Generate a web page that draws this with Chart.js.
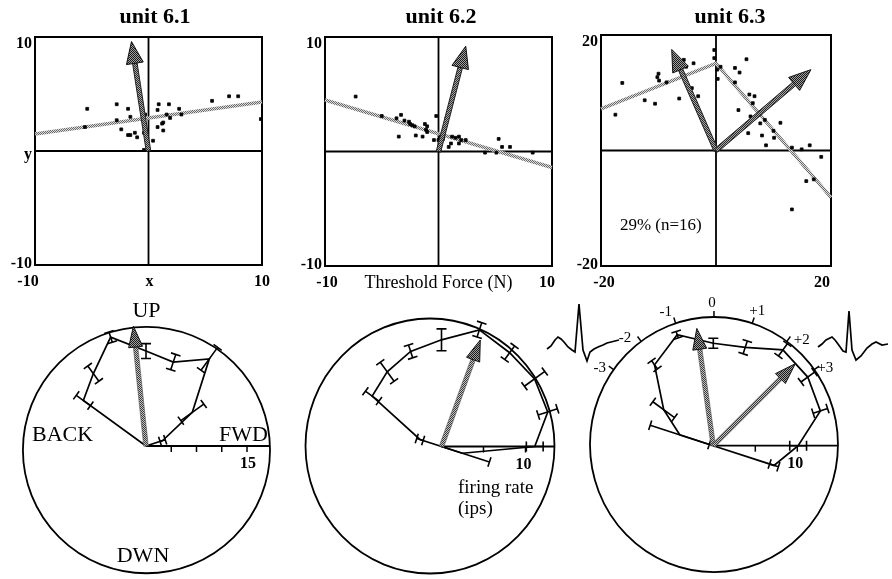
<!DOCTYPE html>
<html><head><meta charset="utf-8">
<script src="https://cdn.jsdelivr.net/npm/chart.js@4.4.1/dist/chart.umd.min.js"></script>
<style>
html,body{margin:0;padding:0;background:#fff;}
#wrap{position:relative;width:892px;height:579px;overflow:hidden;background:#fff;}
#wrap canvas{position:absolute;left:0;top:0;}
</style></head>
<body><div id="wrap">
<canvas id="s1" width="892" height="579"></canvas>
<canvas id="s2" width="892" height="579"></canvas>
<canvas id="s3" width="892" height="579"></canvas>
<canvas id="p1" width="892" height="579"></canvas>
<canvas id="p2" width="892" height="579"></canvas>
<canvas id="p3" width="892" height="579"></canvas>
<canvas id="w1" width="892" height="579"></canvas>
<canvas id="w2" width="892" height="579"></canvas>
</div>
<script>
// ===================== DATA =====================
const unitTitles = ['unit 6.1', 'unit 6.2', 'unit 6.3'];

// Threshold force scatter, unit 6.1 (N)
const u1x = [-5.4,-5.6,-2.8,-2.8,-1.8,-1.6,-2.4,-1.8,-1.6,-1.2,-1.0,-0.4,-0.3,-0.4,0.4,0.8,0.9,0.8,1.2,1.3,1.6,1.8,1.9,2.7,2.9,5.6,7.1,7.9,9.9,1.3];
const u1y = [3.7,2.1,4.1,2.7,3.7,3.0,1.9,1.4,1.4,1.6,1.2,1.6,3.2,0.1,0.9,3.6,4.1,2.1,2.4,1.8,3.2,4.1,2.9,3.7,3.2,4.4,4.8,4.8,2.8,2.5];
const u1RegX = [-10, 10];
const u1RegY = [1.5, 4.3];
const u1ArrowX = [-1.5];
const u1ArrowY = [9.6];

// unit 6.2
const u2x = [-7.3,-5.0,-3.7,-3.3,-3.0,-2.6,-2.3,-2.1,-2.5,-3.5,-2.0,-1.4,-1.2,-1.1,-1.0,-1.0,-0.4,-0.2,0.2,0.4,0.7,0.9,1.1,1.2,1.5,1.8,1.8,2.0,2.4,5.3,5.1,5.6,6.3,4.1,8.3,0.1,0.0,0.4];
const u2y = [4.8,3.1,2.9,3.2,2.7,2.6,2.3,2.2,2.4,1.3,1.4,1.3,2.4,1.9,1.7,2.2,1.0,3.1,1.3,1.1,2.9,0.4,0.7,1.3,1.2,1.3,0.7,1.0,1.0,1.1,-0.1,0.4,0.4,-0.1,-0.1,0.1,1.0,1.4];
const u2RegX = [-10, 10];
const u2RegY = [4.5, -1.4];
const u2ArrowX = [2.4];
const u2ArrowY = [9.2];

// unit 6.3
const u3x = [-16.3,-17.5,-12.4,-10.6,-10.2,-10.0,-9.9,-8.6,-6.4,-5.6,-5.2,-4.2,-3.9,-3.1,-0.3,-0.3,0.2,0.3,0.8,3.3,4.1,3.3,5.3,5.8,6.7,6.4,3.9,6.0,7.7,8.5,11.2,10.0,8.0,5.6,10.1,8.7,13.2,14.9,16.3,18.3,15.7,17.0,13.2];
const u3y = [11.7,6.2,8.7,8.1,12.7,13.3,12.1,11.8,9.0,15.7,14.5,10.8,15.1,9.4,17.4,16.0,14.0,12.4,14.5,14.3,13.5,11.8,15.8,9.7,9.4,8.2,7.0,5.9,4.7,5.3,4.8,3.4,2.6,3.0,2.2,0.9,0.5,0.2,0.9,-1.1,-5.3,-5.0,-10.2];
const u3RegX = [-20, 0, 20];
const u3RegY = [7.2, 15.1, -8.1];
const u3ArrowX = [-7.7, 16.5];
const u3ArrowY = [17.5, 14.0];
const u3Note = '29% (n=16)';

// axis tick labels of the scatter panels
const s1YLabels = ['10', 'y', '-10'];
const s1XLabels = ['-10', 'x', '10'];
const s2YLabels = ['10', '', '-10'];
const s2XLabels = ['-10', 'Threshold Force (N)', '10'];
const s3YLabels = ['20', '', '-20'];
const s3XLabels = ['-20', '', '20'];

// Polar tuning curves: direction (deg, 0 = FWD, 90 = UP), firing rate (ips), error
const p1Angles = [18, 36, 54, 72, 90, 108, 126, 144];
const p1Rates  = [2.6, 8.5, 16.0, 13.1, 14.1, 17.0, 13.3, 11.5];
const p1Err    = [0.4, 2.1, 2.1, 1.2, 1.1, 0.8, 1.4, 1.3];
const p1ArrowAngle = [96];
const p1ArrowLen   = [17.9];
const p1TickVals   = [3.75, 7.5, 11.25, 15];
const p1TickLabels = ['', '', '', '15'];
const p1DirLabels  = ['FWD', 'UP', 'BACK', 'DWN'];

const p2Angles = [-18, 0, 18, 36, 54, 72, 90, 108, 126, 144, 162];
const p2Rates  = [2.6, 11.1, 13.3, 13.7, 13.8, 14.6, 12.7, 11.9, 11.0, 10.2, 2.7];
const p2Err    = [3.4, 1.0, 1.2, 1.5, 1.0, 0.9, 1.3, 0.8, 1.4, 1.0, 0.4];
const p2ArrowAngle = [70];
const p2ArrowLen   = [13.5];
const p2TickVals   = [5, 10];
const p2TickLabels = ['', '10'];
const p2AxisTitle  = ['firing rate', '(ips)'];

const p3Angles = [-18, 0, 18, 36, 54, 72, 90, 108, 126, 144, 162];
const p3Rates  = [7.6, 10.1, 13.4, 13.9, 14.1, 12.3, 12.2, 13.9, 11.9, 7.3, 4.2];
const p3Err    = [0.55, 1.0, 0.9, 1.0, 0.9, 0.8, 0.6, 0.4, 0.6, 1.6, 3.7];
const p3ArrowAngle = [98, 45];
const p3ArrowLen   = [14.1, 13.8];
const p3TickVals   = [5, 10];
const p3TickLabels = ['', '10'];
const p3RimAngles  = [36, 54, 72, 90, 108, 126, 144];
const p3RimLabels  = ['+3', '+2', '+1', '0', '-1', '-2', '-3'];

// spike waveforms (time sample, amplitude)
const wave1T = [0, 4, 8, 11, 14, 17, 21, 25, 28, 32, 36, 40, 43, 47, 51, 56, 60, 64, 68, 72];
const wave1V = [3, 6, 12, 15, 13, 10, 5, 2, 0, 48, 2, -9, 0, 3, 5, 7, 9, 10, 11, 12];
const wave2T = [0, 4, 8, 14, 17, 20, 25, 28, 31, 34, 38, 43, 49, 54, 58, 64, 70];
const wave2V = [5, 8, 12, 15, 12, 8, 1, 0, 41, 2, -8, -4, 4, 8, 10, 7, 8];

// ===================== DRAWING =====================
const W = 892, H = 579;
const SERIF = "'Liberation Serif','Times New Roman',Times,serif";
Chart.defaults.font.family = SERIF;

function fnt(size, bold) { return (bold ? 'bold ' : '') + size + 'px ' + SERIF; }
function text(ctx, s, x, y, size, bold, align, base) {
  ctx.save(); ctx.font = fnt(size, bold); ctx.fillStyle = '#000';
  ctx.textAlign = align || 'center'; ctx.textBaseline = base || 'middle';
  ctx.fillText(s, x, y); ctx.restore();
}
function dither(ctx, on, off) {
  const c = document.createElement('canvas'); c.width = 2; c.height = 2;
  const g = c.getContext('2d'); g.fillStyle = off; g.fillRect(0, 0, 2, 2);
  g.fillStyle = on; g.fillRect(0, 0, 1, 1); g.fillRect(1, 1, 1, 1);
  return ctx.createPattern(c, 'repeat');
}
const scratchCtx = document.createElement('canvas').getContext('2d');
const regPattern = dither(scratchCtx, '#6a6a6a', '#dcdcdc');

function arrow(ctx, x0, y0, x1, y1, o) {
  const dx = x1 - x0, dy = y1 - y0, L = Math.hypot(dx, dy);
  const ux = dx / L, uy = dy / L, nx = -uy, ny = ux;
  const bx = x1 - ux * o.headL, by = y1 - uy * o.headL, s = o.shaft / 2;
  ctx.save();
  ctx.beginPath();
  ctx.moveTo(x0 + nx * s, y0 + ny * s);
  ctx.lineTo(bx + nx * s, by + ny * s);
  ctx.lineTo(bx - nx * s, by - ny * s);
  ctx.lineTo(x0 - nx * s, y0 - ny * s);
  ctx.closePath();
  ctx.fillStyle = dither(ctx, o.shaftOn, o.shaftOff); ctx.fill();
  ctx.strokeStyle = o.edge; ctx.lineWidth = o.edgeW; ctx.stroke();
  ctx.beginPath();
  ctx.moveTo(bx + nx * o.headW, by + ny * o.headW);
  ctx.lineTo(x1, y1);
  ctx.lineTo(bx - nx * o.headW, by - ny * o.headW);
  ctx.closePath();
  ctx.fillStyle = dither(ctx, '#1a1a1a', '#a0a0a0'); ctx.fill();
  ctx.strokeStyle = '#111'; ctx.lineWidth = 1; ctx.stroke();
  ctx.restore();
}
function pad(box) { return { left: box[0], top: box[1], right: W - box[2], bottom: H - box[3] }; }
const baseOpts = { responsive: false, animation: false, events: [],
  plugins: { legend: { display: false }, tooltip: { enabled: false }, title: { display: false } } };

// ---------- scatter panels ----------
function scatterPanel(id, c) {
  return new Chart(document.getElementById(id), {
    type: 'scatter',
    data: { datasets: [
      { data: c.regX.map((x, i) => ({ x, y: c.regY[i] })), showLine: true, borderColor: regPattern,
        borderWidth: 3.5, pointRadius: 0, clip: false, order: 2 },
      { data: c.xs.map((x, i) => ({ x, y: c.ys[i] })), pointStyle: 'rect', pointRadius: 2,
        pointBorderWidth: 0.8, backgroundColor: '#000', borderColor: '#000', clip: false, order: 1 }
    ] },
    options: Object.assign({}, baseOpts, {
      layout: { padding: pad(c.box), autoPadding: false },
      scales: {
        x: { type: 'linear', min: -c.R, max: c.R, display: false },
        y: { type: 'linear', min: -c.R, max: c.R, display: false }
      }
    }),
    plugins: [{
      id: 'frame_' + id,
      beforeDatasetsDraw(ch) {
        const ctx = ch.ctx, a = ch.chartArea, xs = ch.scales.x, ys = ch.scales.y;
        ctx.save(); ctx.strokeStyle = '#000';
        ctx.lineWidth = 2; ctx.strokeRect(a.left, a.top, a.right - a.left, a.bottom - a.top);
        ctx.lineWidth = 1.8; ctx.beginPath();
        ctx.moveTo(xs.getPixelForValue(0), a.top); ctx.lineTo(xs.getPixelForValue(0), a.bottom);
        ctx.moveTo(a.left, ys.getPixelForValue(0)); ctx.lineTo(a.right, ys.getPixelForValue(0));
        ctx.stroke(); ctx.restore();
      },
      afterDatasetsDraw(ch) {
        const ctx = ch.ctx, a = ch.chartArea, xs = ch.scales.x, ys = ch.scales.y;
        const x0 = xs.getPixelForValue(0), y0 = ys.getPixelForValue(0);
        c.arrX.forEach((ax, i) => arrow(ctx, x0, y0, xs.getPixelForValue(ax), ys.getPixelForValue(c.arrY[i]),
          { shaft: 4.5, headL: 22, headW: 8.5, shaftOn: '#2a2a2a', shaftOff: '#a8a8a8', edge: '#222', edgeW: 1 }));
        text(ctx, c.title, c.titleX, 17, 22, true);
        const yv = [c.R, 0, -c.R], yoff = [7, 4, -1];
        c.yLabels.forEach((s, i) => { if (s) text(ctx, s, a.left - 3, ys.getPixelForValue(yv[i]) + yoff[i], 16, true, 'right'); });
        const xv = [-c.R, 0, c.R];
        c.xLabels.forEach((s, i) => {
          if (!s) return;
          const mid = i === 1 && s.length > 2;
          text(ctx, s, xs.getPixelForValue(xv[i]) + c.xOff[i], a.bottom + 17, mid ? 18 : 16, !mid);
        });
        if (c.note) text(ctx, c.note, xs.getPixelForValue(c.noteAt[0]), ys.getPixelForValue(c.noteAt[1]), 17, false);
      }
    }]
  });
}

scatterPanel('s1', { box: [35, 37, 262, 265], R: 10, xs: u1x, ys: u1y, regX: u1RegX, regY: u1RegY,
  arrX: u1ArrowX, arrY: u1ArrowY, title: unitTitles[0], titleX: 155, yLabels: s1YLabels, xLabels: s1XLabels, xOff: [-7, 1, 0] });
scatterPanel('s2', { box: [325, 37, 552, 266], R: 10, xs: u2x, ys: u2y, regX: u2RegX, regY: u2RegY,
  arrX: u2ArrowX, arrY: u2ArrowY, title: unitTitles[1], titleX: 441, yLabels: s2YLabels, xLabels: s2XLabels, xOff: [2, 0, -5] });
scatterPanel('s3', { box: [601, 35, 831, 266], R: 20, xs: u3x, ys: u3y, regX: u3RegX, regY: u3RegY,
  arrX: u3ArrowX, arrY: u3ArrowY, title: unitTitles[2], titleX: 730, yLabels: s3YLabels, xLabels: s3XLabels, xOff: [3, 0, -9],
  note: u3Note, noteAt: [-9.6, -13.0] });

// ---------- polar panels ----------
function polarPanel(id, c) {
  const [l, t, r, b] = c.box, [ox, oy] = c.origin, k = c.ppu;
  const rad = a => a * Math.PI / 180;
  const pts = [{ x: 0, y: 0 }].concat(c.angles.map((a, i) => ({ x: c.rates[i] * Math.cos(rad(a)), y: c.rates[i] * Math.sin(rad(a)) })), [{ x: 0, y: 0 }]);
  return new Chart(document.getElementById(id), {
    type: 'scatter',
    data: { datasets: [{ data: pts, showLine: true, borderColor: '#000', borderWidth: 1.7, pointRadius: 0, clip: false }] },
    options: Object.assign({}, baseOpts, {
      layout: { padding: pad(c.box), autoPadding: false },
      scales: {
        x: { type: 'linear', min: (l - ox) / k, max: (r - ox) / k, display: false },
        y: { type: 'linear', min: (oy - b) / k, max: (oy - t) / k, display: false }
      }
    }),
    plugins: [{
      id: 'polar_' + id,
      beforeDatasetsDraw(ch) {
        const ctx = ch.ctx, xs = ch.scales.x, ys = ch.scales.y;
        const px = v => xs.getPixelForValue(v), py = v => ys.getPixelForValue(v);
        const kk = px(1) - px(0);
        const [cx, cy, rx, ry] = c.circle;
        ctx.save(); ctx.strokeStyle = '#000'; ctx.lineWidth = 1.8;
        ctx.beginPath(); ctx.ellipse(px(cx), py(cy), rx * kk, ry * kk, 0, 0, Math.PI * 2); ctx.stroke();
        const xe = cx + rx * Math.sqrt(1 - Math.pow(cy / ry, 2));
        ctx.lineWidth = 1.8; ctx.beginPath(); ctx.moveTo(px(0), py(0)); ctx.lineTo(px(xe), py(0)); ctx.stroke();
        ctx.lineWidth = 1.5;
        c.ticks.forEach((v, i) => {
          ctx.beginPath(); ctx.moveTo(px(v), py(0)); ctx.lineTo(px(v), py(0) + 6); ctx.stroke();
          if (c.tickLabels[i]) text(ctx, c.tickLabels[i], px(v) + c.tickLabelDx, py(0) + 18, 16, true);
        });
        if (c.rim) {
          c.rim.angles.forEach((a, i) => {
            const ex = px(cx) + rx * kk * Math.cos(rad(a)), ey = py(cy) - ry * kk * Math.sin(rad(a));
            ctx.beginPath(); ctx.moveTo(ex, ey); ctx.lineTo(ex + 6 * Math.cos(rad(a)), ey - 6 * Math.sin(rad(a))); ctx.stroke();
            text(ctx, c.rim.labels[i], ex + c.rim.off[i][0], ey + c.rim.off[i][1], 15, false);
          });
        }
        ctx.restore();
      },
      afterDatasetsDraw(ch) {
        const ctx = ch.ctx, xs = ch.scales.x, ys = ch.scales.y;
        const px = v => xs.getPixelForValue(v), py = v => ys.getPixelForValue(v);
        ctx.save(); ctx.strokeStyle = '#000'; ctx.lineWidth = 1.6;
        c.angles.forEach((a, i) => {
          const cs = Math.cos(rad(a)), sn = Math.sin(rad(a));
          const lo = Math.max(0, c.rates[i] - c.err[i]), hi = c.rates[i] + c.err[i];
          const x1 = px(lo * cs), y1 = py(lo * sn), x2 = px(hi * cs), y2 = py(hi * sn);
          const nx = sn * 5, ny = cs * 5;
          ctx.beginPath(); ctx.moveTo(x1, y1); ctx.lineTo(x2, y2);
          ctx.moveTo(x2 - nx, y2 - ny); ctx.lineTo(x2 + nx, y2 + ny);
          if (c.rates[i] - c.err[i] > 0) { ctx.moveTo(x1 - nx, y1 - ny); ctx.lineTo(x1 + nx, y1 + ny); }
          ctx.stroke();
        });
        ctx.restore();
        c.arrowAngle.forEach((a, i) => arrow(ctx, px(0), py(0), px(c.arrowLen[i] * Math.cos(rad(a))), py(c.arrowLen[i] * Math.sin(rad(a))),
          { shaft: 4.5, headL: 21, headW: 7, shaftOn: '#3a3a3a', shaftOff: '#c4c4c4', edge: '#555', edgeW: 0.6 }));
        if (c.extra) c.extra(ctx, px, py);
      }
    }]
  });
}

polarPanel('p1', { box: [20, 320, 275, 577], origin: [146, 446], ppu: 101 / 15, circle: [0.07, -0.6, 18.35, 18.3],
  angles: p1Angles, rates: p1Rates, err: p1Err, arrowAngle: p1ArrowAngle, arrowLen: p1ArrowLen,
  ticks: p1TickVals, tickLabels: p1TickLabels, tickLabelDx: 1,
  extra(ctx) {
    text(ctx, p1DirLabels[1], 146.5, 311, 22, false);
    text(ctx, p1DirLabels[2], 32, 435, 22, false, 'left');
    text(ctx, p1DirLabels[0], 268, 435, 22, false, 'right');
    text(ctx, p1DirLabels[3], 143, 556, 22, false);
  } });

polarPanel('p2', { box: [303, 316, 558, 576], origin: [441.5, 446.5], ppu: 8.4, circle: [-1.37, 0.06, 14.82, 15.18],
  angles: p2Angles, rates: p2Rates, err: p2Err, arrowAngle: p2ArrowAngle, arrowLen: p2ArrowLen,
  ticks: p2TickVals, tickLabels: p2TickLabels, tickLabelDx: -2,
  extra(ctx) {
    text(ctx, p2AxisTitle[0], 458, 488, 19, false, 'left');
    text(ctx, p2AxisTitle[1], 458, 509, 19, false, 'left');
  } });

polarPanel('p3', { box: [588, 315, 842, 576], origin: [713.3, 445.7], ppu: 8.4, circle: [0.08, 0.14, 14.76, 15.18],
  angles: p3Angles, rates: p3Rates, err: p3Err, arrowAngle: p3ArrowAngle, arrowLen: p3ArrowLen,
  ticks: p3TickVals, tickLabels: p3TickLabels, tickLabelDx: -2,
  rim: { angles: p3RimAngles, labels: p3RimLabels,
         off: [[11, -2], [15, -1], [5, -12], [-2, -14], [-10, -11], [-16, -3], [-14, -2]] } });

// ---------- spike waveforms ----------
function wavePanel(id, T, V, box) {
  return new Chart(document.getElementById(id), {
    type: 'scatter',
    data: { datasets: [{ data: T.map((x, i) => ({ x, y: V[i] })), showLine: true, borderColor: '#000',
      borderWidth: 1.7, pointRadius: 0, clip: false, tension: 0 }] },
    options: Object.assign({}, baseOpts, {
      layout: { padding: pad(box), autoPadding: false },
      scales: {
        x: { type: 'linear', min: Math.min(...T), max: Math.max(...T), display: false },
        y: { type: 'linear', min: Math.min(...V), max: Math.max(...V), display: false }
      }
    })
  });
}
wavePanel('w1', wave1T, wave1V, [547, 304, 619, 361]);
wavePanel('w2', wave2T, wave2V, [818, 311, 888, 360]);
</script>
</body></html>
